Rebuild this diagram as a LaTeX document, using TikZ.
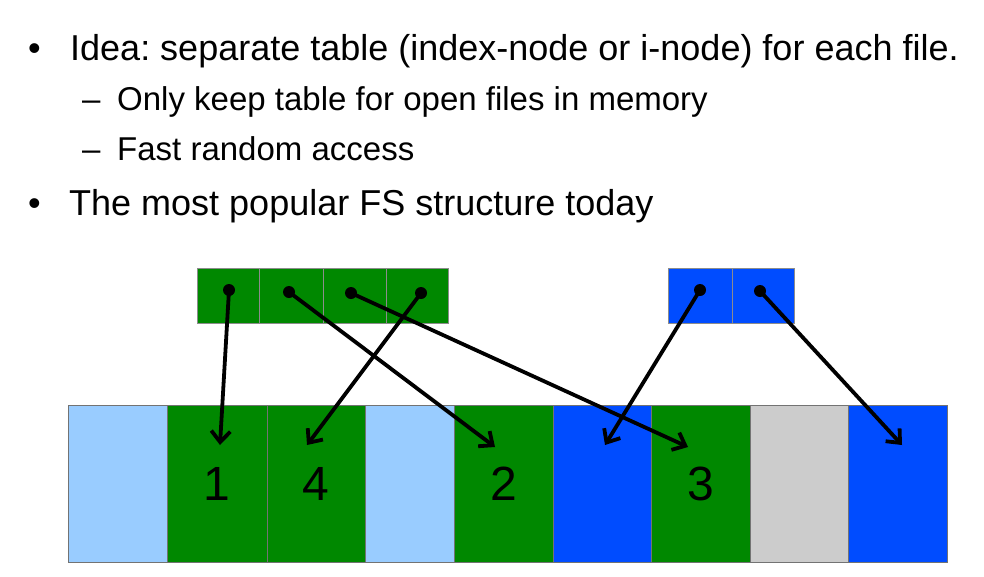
\documentclass[tikz,border=0pt]{standalone}
\usepackage{fontspec}
\setmainfont{Liberation Sans}
\usetikzlibrary{arrows.meta}
\frenchspacing
\definecolor{lblue}{HTML}{99CCFF}
\definecolor{fgreen}{HTML}{008800}
\definecolor{fblue}{HTML}{004CFF}
\definecolor{fgray}{HTML}{CCCCCC}
\tikzset{
  lvlone/.style={anchor=base west,inner sep=0pt,font=\fontsize{36}{40}\selectfont},
  lvltwo/.style={anchor=base west,inner sep=0pt,font=\fontsize{33}{38}\selectfont},
  blk/.style={draw=black!55,line width=0.5pt,anchor=north west,inner sep=0pt,
    minimum height=157pt,font=\fontsize{48}{50}\selectfont},
  cell/.style={draw=black!45,line width=0.5pt,anchor=north west,inner sep=0pt,
    minimum height=55pt},
  dot/.style={circle,fill=black,inner sep=0pt,minimum size=12pt},
  ptr/.style={line width=3.8pt,-{Straight Barb[length=11pt,width=19pt,line width=3.8pt]}}
}
\begin{document}
\begin{tikzpicture}[x=1pt,y=-1pt]
\useasboundingbox[fill=white] (0,0) rectangle (984,576);
% text
\node[lvlone] (b1) at (28,60) {•};
\node[lvlone] (l1) at (70,60) {Idea: separate table (index-node or i-node) for each file.};
\node[lvltwo] (d2) at (82,110) {–};
\node[lvltwo] (l2) at (117,110) {Only keep table for open files in memory};
\node[lvltwo] (d3) at (82,160) {–};
\node[lvltwo] (l3) at (117,160) {Fast random access};
\node[lvlone] (b4) at (28,215) {•};
\node[lvlone] (l4) at (69,215) {The most popular FS structure today};
% disk blocks
\node[blk,fill=lblue,minimum width=99pt] (k1) at (68,405) {};
\node[blk,fill=fgreen,minimum width=100pt] (k2) at (167,405) {1};
\node[blk,fill=fgreen,minimum width=98pt] (k3) at (267,405) {4};
\node[blk,fill=lblue,minimum width=89pt] (k4) at (365,405) {};
\node[blk,fill=fgreen,minimum width=99pt] (k5) at (454,405) {2};
\node[blk,fill=fblue,minimum width=98pt] (k6) at (553,405) {};
\node[blk,fill=fgreen,minimum width=99pt] (k7) at (651,405) {3};
\node[blk,fill=fgray,minimum width=98pt] (k8) at (750,405) {};
\node[blk,fill=fblue,minimum width=99pt] (k9) at (848,405) {};
% index tables
\node[cell,fill=fgreen,minimum width=62pt] (g1) at (197,268) {};
\node[cell,fill=fgreen,minimum width=64pt] (g2) at (259,268) {};
\node[cell,fill=fgreen,minimum width=63pt] (g3) at (323,268) {};
\node[cell,fill=fgreen,minimum width=62pt] (g4) at (386,268) {};
\node[cell,fill=fblue,minimum width=64pt] (h1) at (668,268) {};
\node[cell,fill=fblue,minimum width=62pt] (h2) at (732,268) {};
% pointer dots
\node[dot] (p1) at (229,290) {};
\node[dot] (p2) at (289,292) {};
\node[dot] (p3) at (351,293) {};
\node[dot] (p4) at (421,293) {};
\node[dot] (q1) at (700,290) {};
\node[dot] (q2) at (760,291) {};
% targets
\coordinate (t1) at (220,445);
\coordinate (t4) at (307,445);
\coordinate (t2) at (495,447);
\coordinate (t3) at (688,447);
\coordinate (u1) at (605,445);
\coordinate (u2) at (902,445);
% pointers
\draw[ptr] (p1.center) -- (t1);
\draw[ptr] (p2.center) -- (t2);
\draw[ptr] (p3.center) -- (t3);
\draw[ptr] (p4.center) -- (t4);
\draw[ptr] (q1.center) -- (u1);
\draw[ptr] (q2.center) -- (u2);
\end{tikzpicture}
\end{document}
